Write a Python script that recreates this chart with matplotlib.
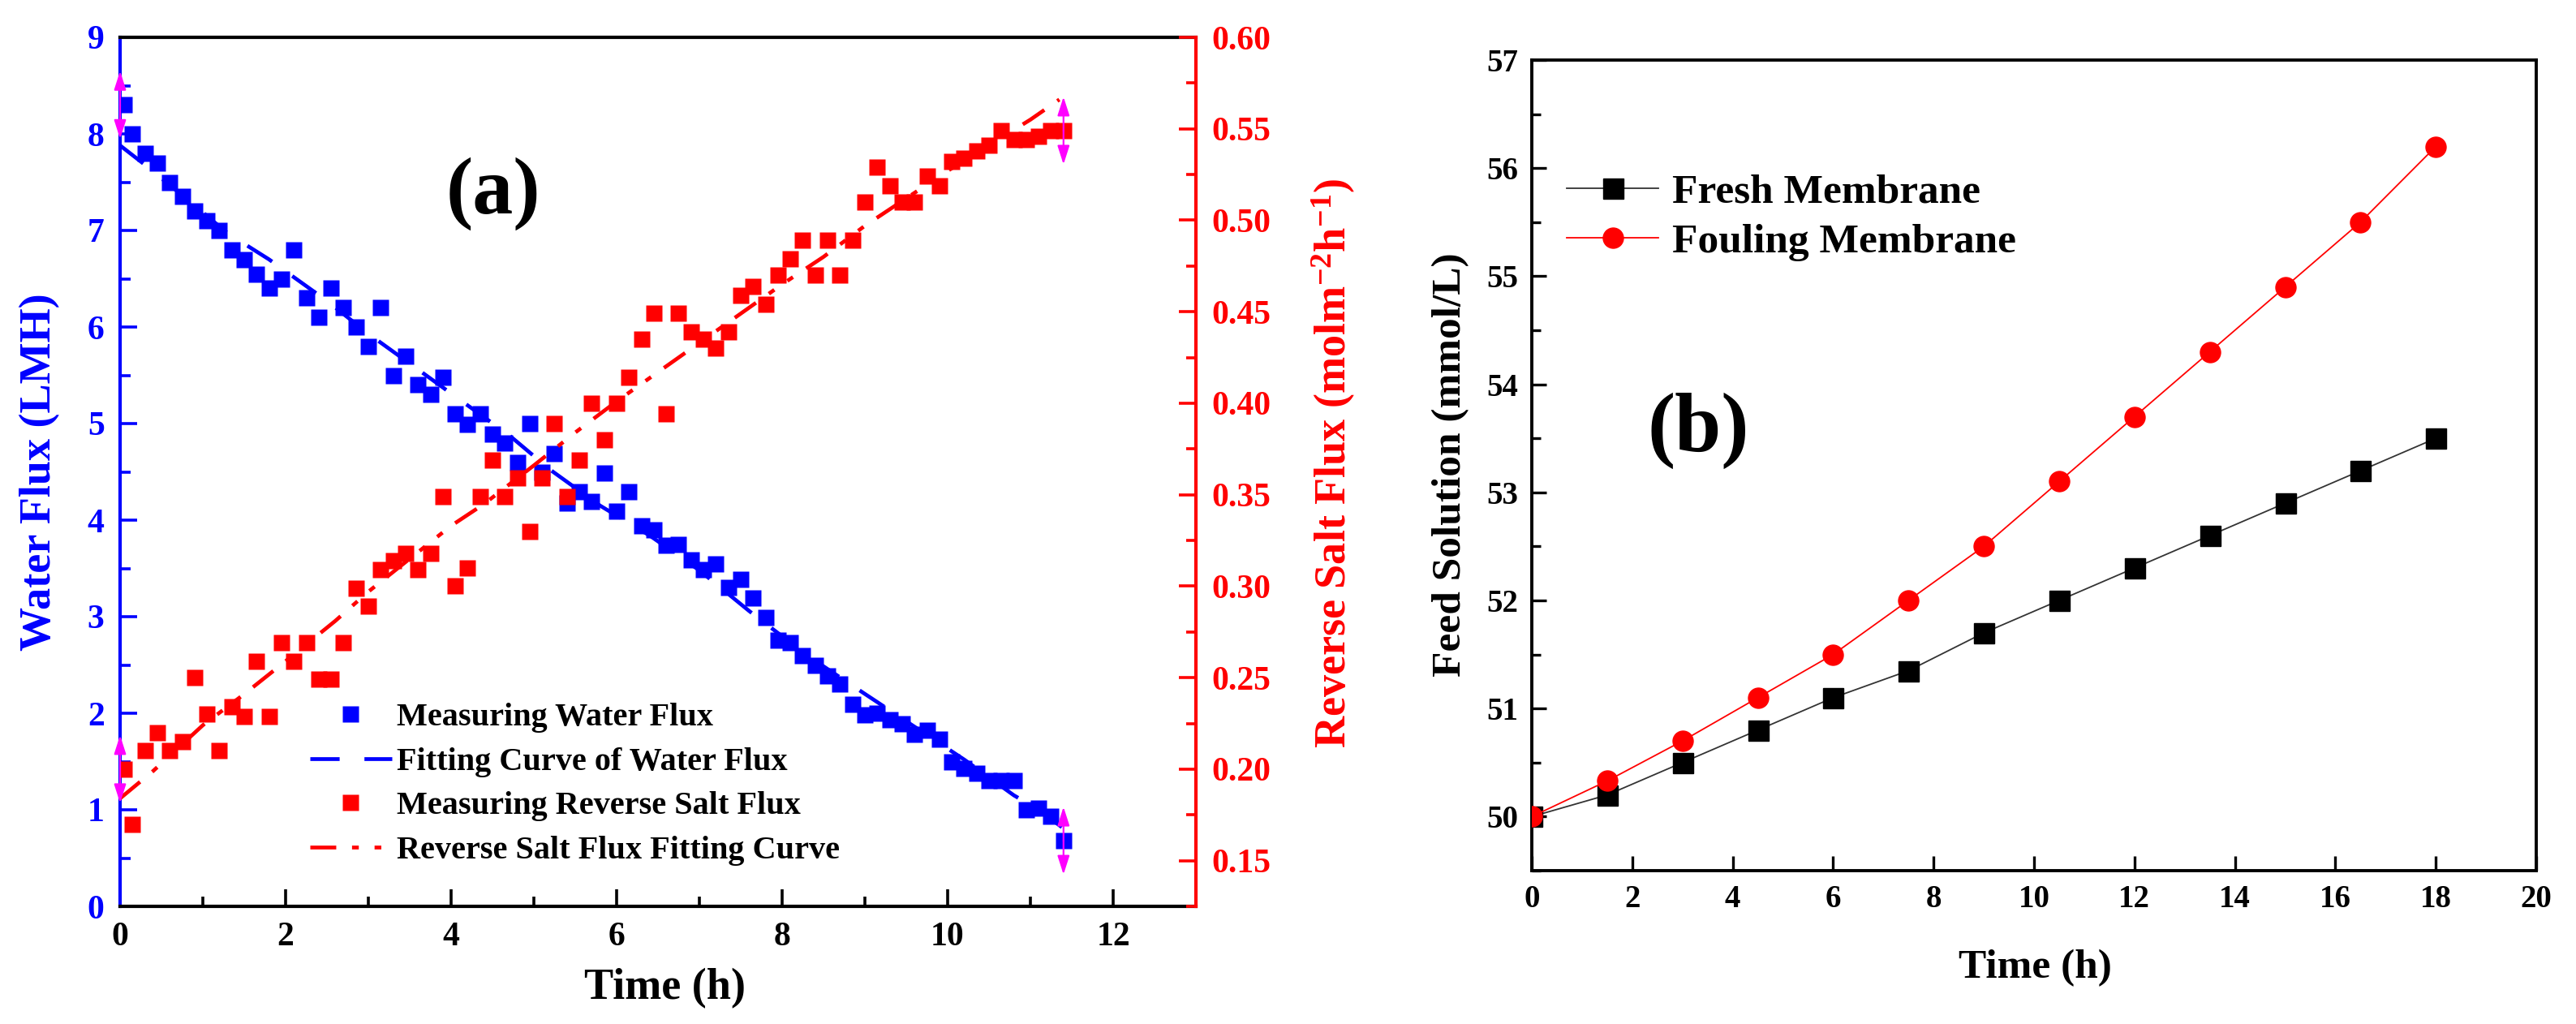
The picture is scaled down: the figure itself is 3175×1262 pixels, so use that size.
import matplotlib
matplotlib.use("Agg")
import matplotlib.pyplot as plt
from matplotlib.lines import Line2D
from matplotlib.ticker import MultipleLocator, FormatStrFormatter

plt.rcParams['font.family'] = ['Liberation Serif', 'DejaVu Serif']
plt.rcParams['font.weight'] = 'bold'
plt.rcParams['mathtext.fontset'] = 'custom'
plt.rcParams['mathtext.rm'] = 'Liberation Serif:bold'
plt.rcParams['mathtext.it'] = 'Liberation Serif:bold'
plt.rcParams['mathtext.bf'] = 'Liberation Serif:bold'
plt.rcParams['mathtext.default'] = 'rm'
plt.rcParams['lines.scale_dashes'] = False

# ---------------- data: panel (a) ----------------
time_a = [0.05, 0.15, 0.30, 0.45, 0.60, 0.75, 0.90, 1.05, 1.20, 1.35, 1.50, 1.65,
          1.80, 1.95, 2.10, 2.25, 2.40, 2.55, 2.70, 2.85, 3.00, 3.15, 3.30, 3.45,
          3.60, 3.75, 3.90, 4.05, 4.20, 4.35, 4.50, 4.65, 4.80, 4.95, 5.10, 5.25,
          5.40, 5.55, 5.70, 5.85, 6.00, 6.15, 6.30, 6.45, 6.60, 6.75, 6.90, 7.05,
          7.20, 7.35, 7.50, 7.65, 7.80, 7.95, 8.10, 8.25, 8.40, 8.55, 8.70, 8.85,
          9.00, 9.15, 9.30, 9.45, 9.60, 9.75, 9.90, 10.05, 10.20, 10.35, 10.50,
          10.65, 10.80, 10.95, 11.10, 11.25, 11.40]

water_flux = [8.30, 8.00, 7.80, 7.70, 7.50, 7.35, 7.20, 7.10, 7.00, 6.80, 6.70, 6.55,
              6.40, 6.50, 6.80, 6.30, 6.10, 6.40, 6.20, 6.00, 5.80, 6.20, 5.50, 5.70,
              5.40, 5.30, 5.48, 5.10, 4.99, 5.10, 4.89, 4.80, 4.60, 5.00, 4.50, 4.69,
              4.18, 4.29, 4.19, 4.49, 4.09, 4.29, 3.94, 3.90, 3.74, 3.75, 3.59, 3.49,
              3.55, 3.30, 3.39, 3.19, 2.99, 2.76, 2.73, 2.60, 2.50, 2.39, 2.30, 2.09,
              1.98, 2.00, 1.93, 1.89, 1.78, 1.82, 1.73, 1.50, 1.43, 1.38, 1.30,
              1.30, 1.30, 1.00, 1.02, 0.93, 0.68]

salt_flux = [0.200, 0.170, 0.210, 0.220, 0.210, 0.215, 0.250, 0.230, 0.210, 0.234, 0.229, 0.259,
             0.229, 0.269, 0.259, 0.269, 0.249, 0.249, 0.269, 0.299, 0.289, 0.309, 0.314, 0.318,
             0.309, 0.318, 0.349, 0.300, 0.310, 0.349, 0.369, 0.349, 0.359, 0.330, 0.359, 0.389,
             0.349, 0.369, 0.400, 0.380, 0.400, 0.414, 0.435, 0.449, 0.394, 0.449, 0.439, 0.435,
             0.430, 0.439, 0.459, 0.464, 0.454, 0.470, 0.479, 0.489, 0.470, 0.489, 0.470, 0.489,
             0.510, 0.529, 0.519, 0.510, 0.510, 0.524, 0.519, 0.532, 0.534, 0.538, 0.541,
             0.549, 0.544, 0.544, 0.546, 0.549, 0.549]

fit_water_t = [0.0, 0.3, 0.8, 1.3, 1.8, 2.5, 3.0, 3.6, 4.1, 4.7, 5.2, 5.8, 6.4,
               7.0, 7.6, 8.3, 9.0, 9.6, 10.2, 10.8, 11.1, 11.38]
fit_water = [7.88, 7.68, 7.33, 6.97, 6.70, 6.27, 5.93, 5.56, 5.25, 4.88, 4.52, 4.15, 3.84,
             3.48, 3.06, 2.60, 2.20, 1.86, 1.52, 1.15, 1.00, 0.82]

fit_salt_t = [0.0, 0.4, 1.0, 1.5, 2.0, 2.6, 3.0, 3.5, 4.0, 4.4, 5.0, 5.5, 6.0, 6.5,
              7.0, 7.5, 8.0, 8.5, 9.0, 9.5, 10.0, 10.5, 11.0, 11.35]
fit_salt = [0.184, 0.199, 0.224, 0.241, 0.259, 0.281, 0.297, 0.315, 0.333, 0.345, 0.366,
            0.384, 0.401, 0.417, 0.433, 0.449, 0.465, 0.480, 0.497, 0.512, 0.527, 0.541,
            0.555, 0.566]

marker_t = [0.0, 11.4]                     # range-indicator positions
marker_water = [water_flux[0], water_flux[-1]]
marker_salt = [salt_flux[0], salt_flux[-1]]

legend_a = ['Measuring Water Flux', 'Fitting Curve of Water Flux',
            'Measuring Reverse Salt Flux', 'Reverse Salt Flux Fitting Curve']

# ---------------- data: panel (b) ----------------
time_b = [0, 1.5, 3, 4.5, 6, 7.5, 9, 10.5, 12, 13.5, 15, 16.5, 18]
fresh = [50.0, 50.2, 50.5, 50.8, 51.1, 51.35, 51.7, 52.0, 52.3, 52.6, 52.9, 53.2, 53.5]
fouling = [50.0, 50.33, 50.7, 51.1, 51.5, 52.0, 52.5, 53.1, 53.7, 54.3, 54.9, 55.5, 56.2]
legend_b = ['Fresh Membrane', 'Fouling Membrane']

BLUE = '#0000FF'
RED = '#FF0000'
MAG = '#FF00FF'

W, H = 3175, 1262
DPI = 100
fig = plt.figure(figsize=(W / DPI, H / DPI), dpi=DPI)
fig.patch.set_facecolor('white')


def px_axes(l, t, r, b):
    return fig.add_axes([l / W, 1 - b / H, (r - l) / W, (b - t) / H])


# ================= panel (a) =================
ax = px_axes(148, 46, 1474, 1117)
ax2 = ax.twinx()

ax.set_xlim(0, 13)
ax.set_ylim(0, 9)
ax2.set_ylim(0.125, 0.60)

ax.xaxis.set_major_locator(MultipleLocator(2))
ax.xaxis.set_minor_locator(MultipleLocator(1))
ax.yaxis.set_major_locator(MultipleLocator(1))
ax.yaxis.set_minor_locator(MultipleLocator(0.5))
ax2.yaxis.set_major_locator(MultipleLocator(0.05))
ax2.yaxis.set_minor_locator(MultipleLocator(0.025))
ax2.yaxis.set_major_formatter(FormatStrFormatter('%.2f'))

TLS_A = 30
ax.tick_params(axis='x', which='both', direction='in', colors='black', top=False,
               labelsize=TLS_A, pad=14)
ax.tick_params(axis='x', which='major', length=15, width=2.6)
ax.tick_params(axis='x', which='minor', length=9, width=2.6)
ax.tick_params(axis='y', which='both', direction='in', colors=BLUE, right=False,
               labelsize=TLS_A, pad=14)
ax.tick_params(axis='y', which='major', length=15, width=2.6)
ax.tick_params(axis='y', which='minor', length=9, width=2.6)
ax2.tick_params(axis='y', which='both', direction='in', colors=RED, left=False,
                labelsize=TLS_A, pad=14)
ax2.tick_params(axis='y', which='major', length=15, width=2.6)
ax2.tick_params(axis='y', which='minor', length=9, width=2.6)

for s in ('top', 'bottom'):
    ax.spines[s].set_color('black')
    ax.spines[s].set_linewidth(3.0)
ax.spines['left'].set_color(BLUE)
ax.spines['left'].set_linewidth(3.0)
ax.spines['right'].set_visible(False)
for s in ('top', 'bottom', 'left'):
    ax2.spines[s].set_visible(False)
ax2.spines['right'].set_color(RED)
ax2.spines['right'].set_linewidth(3.0)

for lab in ax.get_xticklabels() + ax.get_yticklabels() + ax2.get_yticklabels():
    lab.set_fontweight('bold')

ax.plot(time_a, water_flux, 's', color=BLUE, ms=14.5, mec='none', zorder=2)
lw_fit, = ax.plot(fit_water_t, fit_water, '-', color=BLUE, lw=3.4, zorder=3)
lw_fit.set_dashes((26, 22))
ax2.plot(time_a, salt_flux, 's', color=RED, ms=14.5, mec='none', zorder=2)
ls_fit, = ax2.plot(fit_salt_t, fit_salt, '-', color=RED, lw=3.4, zorder=3)
ls_fit.set_dashes((23, 14, 6, 14, 6, 14))

arrow_style = '<|-,head_length=1.4,head_width=0.45'


def range_marker(axis, x, y):
    for sgn in (1, -1):
        axis.annotate('', xy=(x, y), xycoords='data', xytext=(0, sgn * 30),
                      textcoords='offset points', annotation_clip=False,
                      arrowprops=dict(arrowstyle=arrow_style, color=MAG, lw=1.6,
                                      shrinkA=0, shrinkB=0, mutation_scale=10),
                      zorder=5)


for xm, ym in zip(marker_t, marker_water):
    range_marker(ax, xm, ym)
for xm, ym in zip(marker_t, marker_salt):
    range_marker(ax2, xm, ym)

handles = [Line2D([], [], ls='none', marker='s', color=BLUE, ms=14.5, mec='none'),
           Line2D([], [], color=BLUE, lw=3.4, dashes=(26, 22)),
           Line2D([], [], ls='none', marker='s', color=RED, ms=14.5, mec='none'),
           Line2D([], [], color=RED, lw=3.4, dashes=(23, 14, 6, 14, 6, 14))]
leg = ax2.legend(handles, legend_a, loc='upper left',
                 bbox_to_anchor=(382 / W, 1 - 866 / H), bbox_transform=fig.transFigure,
                 frameon=False, borderpad=0, borderaxespad=0, handlelength=2.5,
                 handletextpad=0.15, labelspacing=0.43,
                 prop={'family': 'Liberation Serif', 'weight': 'bold', 'size': 29})

fig.text(820 / W, 1 - 1218 / H, 'Time (h)', ha='center', va='center', fontsize=39,
         fontweight='bold', color='black')
fig.text(49 / W, 1 - 582 / H, 'Water Flux (LMH)', ha='center', va='center', rotation=90,
         fontsize=39, fontweight='bold', color=BLUE)
fig.text(1644 / W, 1 - 571 / H, r'Reverse Salt Flux (molm$^{-2}$h$^{-1}$)', ha='center',
         va='center', rotation=90, fontsize=39, fontweight='bold', color=RED)
ax.text(0.347, 0.820, '(a)', transform=ax.transAxes, ha='center', va='center',
        fontsize=72, fontweight='bold', color='black')

# ================= panel (b) =================
bx = px_axes(1888, 74, 3126, 1073)
bx.set_xlim(0, 20)
bx.set_ylim(49.5, 57)
bx.xaxis.set_major_locator(MultipleLocator(2))
bx.yaxis.set_major_locator(MultipleLocator(1))
bx.yaxis.set_minor_locator(MultipleLocator(0.5))
TLS_B = 28
bx.tick_params(axis='both', which='both', direction='in', top=False, right=False,
               labelsize=TLS_B, colors='black', pad=12)
bx.tick_params(axis='both', which='major', length=13, width=2.4)
bx.tick_params(axis='both', which='minor', length=8, width=2.4)
for s in bx.spines.values():
    s.set_linewidth(2.8)
    s.set_color('black')
for lab in bx.get_xticklabels() + bx.get_yticklabels():
    lab.set_fontweight('bold')

bx.plot(time_b, fresh, '-', color='#333333', lw=1.3, marker='s', ms=18, mfc='black',
        mec='black', label=legend_b[0], zorder=3)
bx.plot(time_b, fouling, '-', color=RED, lw=1.3, marker='o', ms=18, mfc=RED,
        mec=RED, label=legend_b[1], zorder=4)
bx.legend(loc='upper left', bbox_to_anchor=(1931 / W, 1 - 214 / H),
          bbox_transform=fig.transFigure, frameon=False, borderpad=0, borderaxespad=0,
          handlelength=2.2, handletextpad=0.33, labelspacing=0.28,
          prop={'family': 'Liberation Serif', 'weight': 'bold', 'size': 37})

fig.text(2508 / W, 1 - 1193 / H, 'Time (h)', ha='center', va='center', fontsize=37,
         fontweight='bold', color='black')
fig.text(1788 / W, 1 - 573 / H, 'Feed Solution (mmol/L)', ha='center', va='center',
         rotation=90, fontsize=37, fontweight='bold', color='black')
bx.text(0.166, 0.5425, '(b)', transform=bx.transAxes, ha='center', va='center',
        fontsize=74, fontweight='bold', color='black')

fig.savefig('out.png', dpi=DPI, facecolor='white')
